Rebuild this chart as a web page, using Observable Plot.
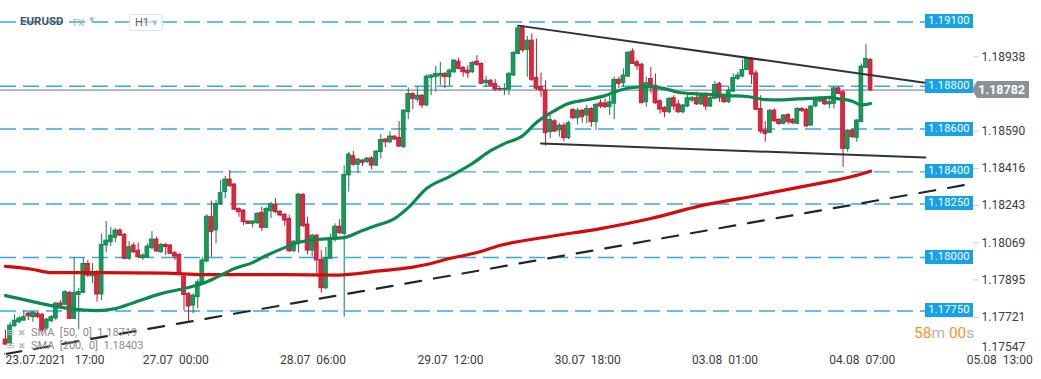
<!DOCTYPE html>
<html><head><meta charset="utf-8">
<script src="https://cdn.jsdelivr.net/npm/d3@7"></script>
<script src="https://cdn.jsdelivr.net/npm/@observablehq/plot@0.6"></script>
<style>
html,body{margin:0;padding:0;background:#fff;}
#wrap{position:relative;width:1041px;height:379px;overflow:hidden;font-family:Roboto,sans-serif;}
#wrap svg{position:absolute;left:0;top:0;}
.ov{position:absolute;white-space:pre;line-height:1;}
</style></head><body><div id="wrap"></div>
<script>
// ---- hourly EURUSD candles ----
const opens=[1.17617,1.17598,1.17679,1.17697,1.17705,1.17738,1.17721,1.17738,1.17733,1.17668,
1.17702,1.17715,1.17785,1.17779,1.17835,1.17713,1.17825,1.17835,1.17970,1.17912,
1.17931,1.17827,1.18056,1.18071,1.18092,1.18126,1.18106,1.17994,1.18056,1.18032,
1.17998,1.18001,1.18043,1.18084,1.18024,1.18059,1.18056,1.18020,1.18012,1.17911,
1.17830,1.17775,1.17814,1.17880,1.17981,1.18188,1.18126,1.18250,1.18305,1.18364,
1.18341,1.18227,1.18219,1.18168,1.18157,1.18160,1.18208,1.18138,1.18216,1.18247,
1.18214,1.18200,1.18180,1.18029,1.18071,1.18292,1.18154,1.18032,1.18102,1.17989,
1.17856,1.17994,1.18087,1.18144,1.18110,1.18383,1.18473,1.18433,1.18453,1.18445,
1.18463,1.18429,1.18492,1.18551,1.18538,1.18565,1.18559,1.18515,1.18678,1.18764,
1.18737,1.18756,1.18710,1.18839,1.18842,1.18846,1.18858,1.18842,1.18865,1.18915,
1.18886,1.18873,1.18865,1.18915,1.18904,1.18814,1.18826,1.18811,1.18787,1.18784,
1.18784,1.18850,1.18951,1.19079,1.18970,1.19013,1.18839,1.18795,1.18780,1.18585,
1.18636,1.18593,1.18616,1.18557,1.18690,1.18650,1.18686,1.18663,1.18694,1.18632,
1.18720,1.18720,1.18702,1.18718,1.18830,1.18814,1.18845,1.18962,1.18912,1.18901,
1.18725,1.18834,1.18803,1.18730,1.18699,1.18678,1.18744,1.18715,1.18678,1.18705,
1.18733,1.18744,1.18715,1.18764,1.18705,1.18741,1.18811,1.18748,1.18725,1.18775,
1.18834,1.18845,1.18876,1.18923,1.18860,1.18694,1.18593,1.18582,1.18686,1.18643,
1.18624,1.18666,1.18643,1.18624,1.18694,1.18690,1.18616,1.18705,1.18728,1.18737,
1.18715,1.18718,1.18790,1.18772,1.18507,1.18593,1.18559,1.18632,1.18886,1.18923];
const highs=[1.17659,1.17696,1.17733,1.17724,1.17752,1.17743,1.17747,1.17743,1.17738,1.17715,
1.17729,1.17791,1.17799,1.17845,1.17841,1.17998,1.17855,1.17995,1.17986,1.17972,
1.17939,1.18110,1.18168,1.18141,1.18135,1.18135,1.18112,1.18074,1.18068,1.18068,
1.18018,1.18064,1.18121,1.18093,1.18065,1.18065,1.18060,1.18028,1.18018,1.17920,
1.17836,1.17831,1.17896,1.18000,1.18200,1.18263,1.18266,1.18359,1.18378,1.18406,
1.18345,1.18233,1.18224,1.18172,1.18172,1.18210,1.18235,1.18233,1.18257,1.18274,
1.18219,1.18205,1.18196,1.18079,1.18299,1.18299,1.18188,1.18107,1.18107,1.18032,
1.18048,1.18110,1.18157,1.18177,1.18429,1.18492,1.18495,1.18462,1.18457,1.18467,
1.18471,1.18499,1.18574,1.18555,1.18588,1.18569,1.18635,1.18691,1.18792,1.18770,
1.18798,1.18761,1.18853,1.18854,1.18892,1.18912,1.18864,1.18881,1.18924,1.18931,
1.18892,1.18896,1.18915,1.18943,1.18910,1.18845,1.18831,1.18831,1.18800,1.18811,
1.18864,1.18962,1.19083,1.19083,1.19033,1.19045,1.19021,1.18862,1.18826,1.18663,
1.18644,1.18627,1.18627,1.18636,1.18694,1.18697,1.18691,1.18710,1.18700,1.18719,
1.18736,1.18741,1.18756,1.18842,1.18842,1.18881,1.18962,1.18974,1.18920,1.18906,
1.18842,1.18888,1.18858,1.18737,1.18705,1.18747,1.18756,1.18733,1.18715,1.18756,
1.18752,1.18772,1.18767,1.18770,1.18756,1.18823,1.18818,1.18756,1.18795,1.18858,
1.18865,1.18923,1.18935,1.18934,1.18873,1.18756,1.18635,1.18691,1.18694,1.18649,
1.18667,1.18672,1.18649,1.18700,1.18700,1.18696,1.18710,1.18742,1.18752,1.18742,
1.18746,1.18798,1.18798,1.18780,1.18597,1.18601,1.18644,1.18904,1.18995,1.18929];
const lows=[1.17589,1.17589,1.17673,1.17691,1.17701,1.17705,1.17697,1.17715,1.17649,1.17659,
1.17696,1.17705,1.17766,1.17775,1.17710,1.17710,1.17663,1.17831,1.17906,1.17878,
1.17791,1.17799,1.18022,1.18051,1.18070,1.18098,1.17990,1.17986,1.18018,1.17995,
1.17986,1.17995,1.18037,1.18023,1.18018,1.18009,1.18014,1.17986,1.17915,1.17752,
1.17697,1.17737,1.17761,1.17873,1.17976,1.18001,1.18064,1.18242,1.18275,1.18327,
1.18219,1.18188,1.18149,1.18154,1.18138,1.18154,1.18122,1.18135,1.18182,1.18205,
1.18191,1.18146,1.18023,1.18023,1.18020,1.18140,1.18012,1.18001,1.17923,1.17833,
1.17850,1.17990,1.18071,1.18107,1.17721,1.18305,1.18425,1.18391,1.18425,1.18439,
1.18409,1.18425,1.18460,1.18512,1.18532,1.18546,1.18514,1.18509,1.18644,1.18691,
1.18725,1.18697,1.18705,1.18756,1.18772,1.18803,1.18788,1.18800,1.18859,1.18878,
1.18842,1.18837,1.18859,1.18892,1.18808,1.18795,1.18798,1.18775,1.18775,1.18756,
1.18756,1.18845,1.18948,1.18957,1.18842,1.18822,1.18780,1.18748,1.18520,1.18554,
1.18583,1.18562,1.18541,1.18551,1.18644,1.18619,1.18627,1.18624,1.18608,1.18593,
1.18696,1.18696,1.18663,1.18643,1.18790,1.18795,1.18840,1.18901,1.18873,1.18718,
1.18702,1.18764,1.18715,1.18671,1.18652,1.18671,1.18686,1.18672,1.18671,1.18700,
1.18724,1.18710,1.18710,1.18686,1.18700,1.18738,1.18725,1.18719,1.18719,1.18770,
1.18826,1.18840,1.18873,1.18808,1.18686,1.18577,1.18538,1.18579,1.18630,1.18616,
1.18620,1.18620,1.18620,1.18620,1.18677,1.18607,1.18612,1.18700,1.18724,1.18710,
1.18694,1.18694,1.18761,1.18421,1.18492,1.18555,1.18538,1.18630,1.18882,1.18775];
const closes=[1.17593,1.17682,1.17705,1.17715,1.17721,1.17725,1.17743,1.17721,1.17659,1.17710,
1.17721,1.17785,1.17772,1.17838,1.17713,1.17835,1.17838,1.17970,1.17915,1.17931,
1.17827,1.18059,1.18079,1.18102,1.18126,1.18102,1.17994,1.18048,1.18024,1.18001,
1.18009,1.18051,1.18084,1.18028,1.18059,1.18048,1.18017,1.18004,1.17920,1.17825,
1.17771,1.17822,1.17884,1.17986,1.18191,1.18118,1.18250,1.18302,1.18364,1.18333,
1.18223,1.18211,1.18165,1.18157,1.18168,1.18204,1.18138,1.18227,1.18250,1.18211,
1.18196,1.18172,1.18029,1.18074,1.18294,1.18146,1.18032,1.18102,1.17986,1.17856,
1.17998,1.18087,1.18144,1.18113,1.18386,1.18481,1.18433,1.18457,1.18442,1.18462,
1.18429,1.18495,1.18549,1.18538,1.18565,1.18551,1.18518,1.18686,1.18764,1.18741,
1.18756,1.18710,1.18845,1.18850,1.18858,1.18858,1.18842,1.18873,1.18920,1.18881,
1.18865,1.18860,1.18909,1.18900,1.18811,1.18826,1.18803,1.18784,1.18784,1.18788,
1.18858,1.18956,1.19071,1.18967,1.19013,1.18830,1.18788,1.18780,1.18580,1.18643,
1.18588,1.18616,1.18557,1.18627,1.18650,1.18686,1.18655,1.18694,1.18632,1.18713,
1.18705,1.18702,1.18725,1.18830,1.18811,1.18850,1.18956,1.18904,1.18893,1.18720,
1.18814,1.18803,1.18720,1.18691,1.18678,1.18741,1.18705,1.18678,1.18710,1.18744,
1.18744,1.18715,1.18756,1.18705,1.18744,1.18806,1.18744,1.18725,1.18780,1.18839,
1.18850,1.18876,1.18928,1.18854,1.18690,1.18588,1.18577,1.18686,1.18636,1.18624,
1.18663,1.18632,1.18627,1.18694,1.18683,1.18612,1.18705,1.18736,1.18746,1.18715,
1.18725,1.18790,1.18764,1.18507,1.18593,1.18562,1.18640,1.18892,1.18928,1.18782];

// ---- moving averages (by candle index) ----
const sma50Idx=[0,3,10,14,20,24,28,34,39,43,46,50,54,57,61,64,68,74,78,81,85,88,92,97,102,106,109,113,116,120,123,127,131,134,137,140,144,147,151,155,158,162,166,169,173,177,180,182,185,187,189];
const sma50Vals=[1.17822,1.17808,1.17775,1.17761,1.17752,1.17761,1.17789,1.17831,1.17855,1.17878,1.17906,1.17948,1.17976,1.18009,1.18046,1.18070,1.18084,1.18093,1.18126,1.18149,1.18182,1.18233,1.18322,1.18378,1.18439,1.18499,1.18532,1.18569,1.18630,1.18686,1.18719,1.18737,1.18756,1.18780,1.18794,1.18798,1.18789,1.18772,1.18764,1.18761,1.18756,1.18752,1.18737,1.18736,1.18741,1.18744,1.18748,1.18741,1.18730,1.18712,1.18719];
const sma200Idx=[0,6,10,20,35,43,60,73,77,81,85,89,92,97,103,108,119,130,141,152,163,174,185,189];
const sma200Vals=[1.17958,1.17944,1.17929,1.17929,1.17927,1.17920,1.17920,1.17918,1.17925,1.17936,1.17944,1.17955,1.17967,1.17995,1.18023,1.18056,1.18098,1.18135,1.18182,1.18242,1.18285,1.18331,1.18378,1.18403];

// ---- drawn trend lines ----
const upperTrendIdx=[112,202], upperTrendVals=[1.19083,1.18813];
const lowerTrendIdx=[117,201], lowerTrendVals=[1.18532,1.18467];
const supportTrendIdx=[0,211.3], supportTrendVals=[1.17549,1.18345];

// ---- levels and axes ----
const levels=[1.19100,1.18800,1.18600,1.18400,1.18250,1.18000,1.17750];
const yTicks=[1.18938,1.18590,1.18416,1.18243,1.18069,1.17895,1.17721];
const yTickLast=[1.17547];
const xTickIdx=[0,30,60,90,120,150,180,210];
const xTickLabels=["23.07.2021\u00a0\u00a0 17:00","27.07\u00a0\u00a000:00","28.07\u00a0\u00a006:00","29.07\u00a0\u00a012:00","30.07\u00a0\u00a018:00","03.08\u00a0\u00a001:00","04.08\u00a0\u00a007:00","05.08\u00a0\u00a013:00"];

const candles=opens.map((o,i)=>({i,o,h:highs[i],l:lows[i],c:closes[i]}));
const pts=(idx,vals)=>idx.map((i,k)=>({i,v:vals[k]}));
const up=d=>d.c>=d.o;

const W=1041,H=379;
const chart=Plot.plot({
  width:W,height:H,marginTop:0,marginRight:0,marginBottom:0,marginLeft:0,
  style:{fontFamily:"Roboto, sans-serif",background:"white",overflow:"visible"},
  x:{type:"linear",domain:[-1.0925,226.35],range:[0,W],axis:null},
  y:{type:"linear",domain:[1.17430,1.192004],range:[H,0],axis:null},
  marks:[
    Plot.ruleY(levels,{y:d=>d,stroke:"#33a9e6",strokeWidth:1.4,strokeDasharray:"16,7",insetRight:116}),
    Plot.ruleY([closes[closes.length-1]],{y:d=>d,stroke:"#8a8f94",strokeWidth:1.2,insetRight:116}),
    Plot.ruleX(candles,{x:"i",y1:"l",y2:"h",stroke:d=>up(d)?"#0f7d47":"#c0182f",strokeWidth:1}),
    Plot.rect(candles,{x1:d=>d.i-0.42,x2:d=>d.i+0.42,y1:"o",y2:"c",fill:d=>up(d)?"#189b5a":"#e2263f",stroke:d=>up(d)?"#0f7d47":"#b51a30",strokeWidth:0.8}),
    Plot.line(pts(sma200Idx,sma200Vals),{x:"i",y:"v",stroke:"#d40b0b",strokeWidth:3.2,curve:"monotone-x"}),
    Plot.line(pts(sma50Idx,sma50Vals),{x:"i",y:"v",stroke:"#0b8a4f",strokeWidth:3.2,curve:"monotone-x"}),
    Plot.line(pts(upperTrendIdx,upperTrendVals),{x:"i",y:"v",stroke:"#2b333b",strokeWidth:2}),
    Plot.line(pts(lowerTrendIdx,lowerTrendVals),{x:"i",y:"v",stroke:"#2b333b",strokeWidth:2}),
    Plot.line(pts(supportTrendIdx,supportTrendVals),{x:"i",y:"v",stroke:"#1f262d",strokeWidth:2.2,strokeDasharray:"16,13"}),
    Plot.ruleY(yTicks,{y:d=>d,stroke:"#d2d2d2",insetLeft:973,insetRight:62}),
    Plot.text(yTicks,{y:d=>d,text:d=>d.toFixed(5),frameAnchor:"right",dx:-60,textAnchor:"start",fill:"#3a3a3a",fontSize:12}),
    Plot.text(yTickLast,{y:d=>d,text:d=>d.toFixed(5),frameAnchor:"right",dx:-60,dy:-7.5,textAnchor:"start",fill:"#3a3a3a",fontSize:12}),
    Plot.ruleX(xTickIdx,{x:d=>d,stroke:"#d8d8d8",insetTop:352,insetBottom:23}),
    Plot.text(xTickIdx,{x:d=>d,text:(d,i)=>xTickLabels[i],frameAnchor:"bottom",dy:-16,textAnchor:"start",fill:"#3a3a3a",fontSize:12})
  ]
});
const wrap=document.getElementById("wrap");
wrap.appendChild(chart);
const yS=chart.scale("y");

function ov(html,css){const d=document.createElement("div");d.className="ov";d.innerHTML=html;Object.assign(d.style,css);wrap.appendChild(d);return d;}

// level boxes
levels.forEach(v=>{
  const y=yS.apply(v);
  ov(v.toFixed(5),{left:"925px",top:(y-7)+"px",width:"48px",height:"14px",background:"#16a2e6",color:"#fff",fontSize:"11px",textAlign:"center",lineHeight:"14px",letterSpacing:"0.2px"});
});
// current price box
{
  const last=closes[closes.length-1];const y=yS.apply(last);
  ov(last.toFixed(5),{left:"972px",top:(y-8.5)+"px",width:"57px",height:"17px",background:"#8a9298",color:"#fff",fontSize:"12.5px",fontWeight:"bold",lineHeight:"17px",textAlign:"right",boxSizing:"border-box",paddingRight:"4px",clipPath:"polygon(5px 0,100% 0,100% 100%,5px 100%,0 50%)"});
}
// header
ov("EURUSD",{left:"20px",top:"16px",fontSize:"11.5px",fontWeight:"bold",color:"#4a5561"});
ov("FX",{left:"73px",top:"18px",fontSize:"9.5px",color:"#a3adb7"});
ov("\u25BE",{left:"89px",top:"14px",fontSize:"11px",color:"#b5bcc3"});
ov("H1 <span style='color:#b5bcc3;font-size:11px'>\u25BE</span>",{left:"129px",top:"14px",width:"34px",height:"17px",border:"1px solid #dfe3e7",borderRadius:"3px",boxSizing:"border-box",fontSize:"11px",color:"#5a626a",paddingLeft:"5px",lineHeight:"15px",background:"rgba(255,255,255,0.6)"});
// SMA legend
const s50=sma50Vals[sma50Vals.length-1].toFixed(5), s200=sma200Vals[sma200Vals.length-1].toFixed(5);
ov("<span style='color:#b9b9b9;font-family:DejaVu Sans'>\u2261</span> <span style='color:#c2c2c2;font-family:DejaVu Sans;font-size:9px'>\u2716</span>  SMA  [50,  0]  "+s50,{left:"6px",top:"327px",fontSize:"11px",color:"#8b8b8b"});
ov("<span style='color:#b9b9b9;font-family:DejaVu Sans'>\u2261</span> <span style='color:#c2c2c2;font-family:DejaVu Sans;font-size:9px'>\u2716</span>  SMA  [200,  0]  "+s200,{left:"6px",top:"340px",fontSize:"11px",color:"#8b8b8b"});
// countdown
ov("<span style='color:#f7941d'>58</span><span style='color:#b3b3b3'>m </span><span style='color:#f7941d'>00</span><span style='color:#b3b3b3'>s</span>",{left:"914px",top:"326px",fontSize:"15.5px"});
</script></body></html>
